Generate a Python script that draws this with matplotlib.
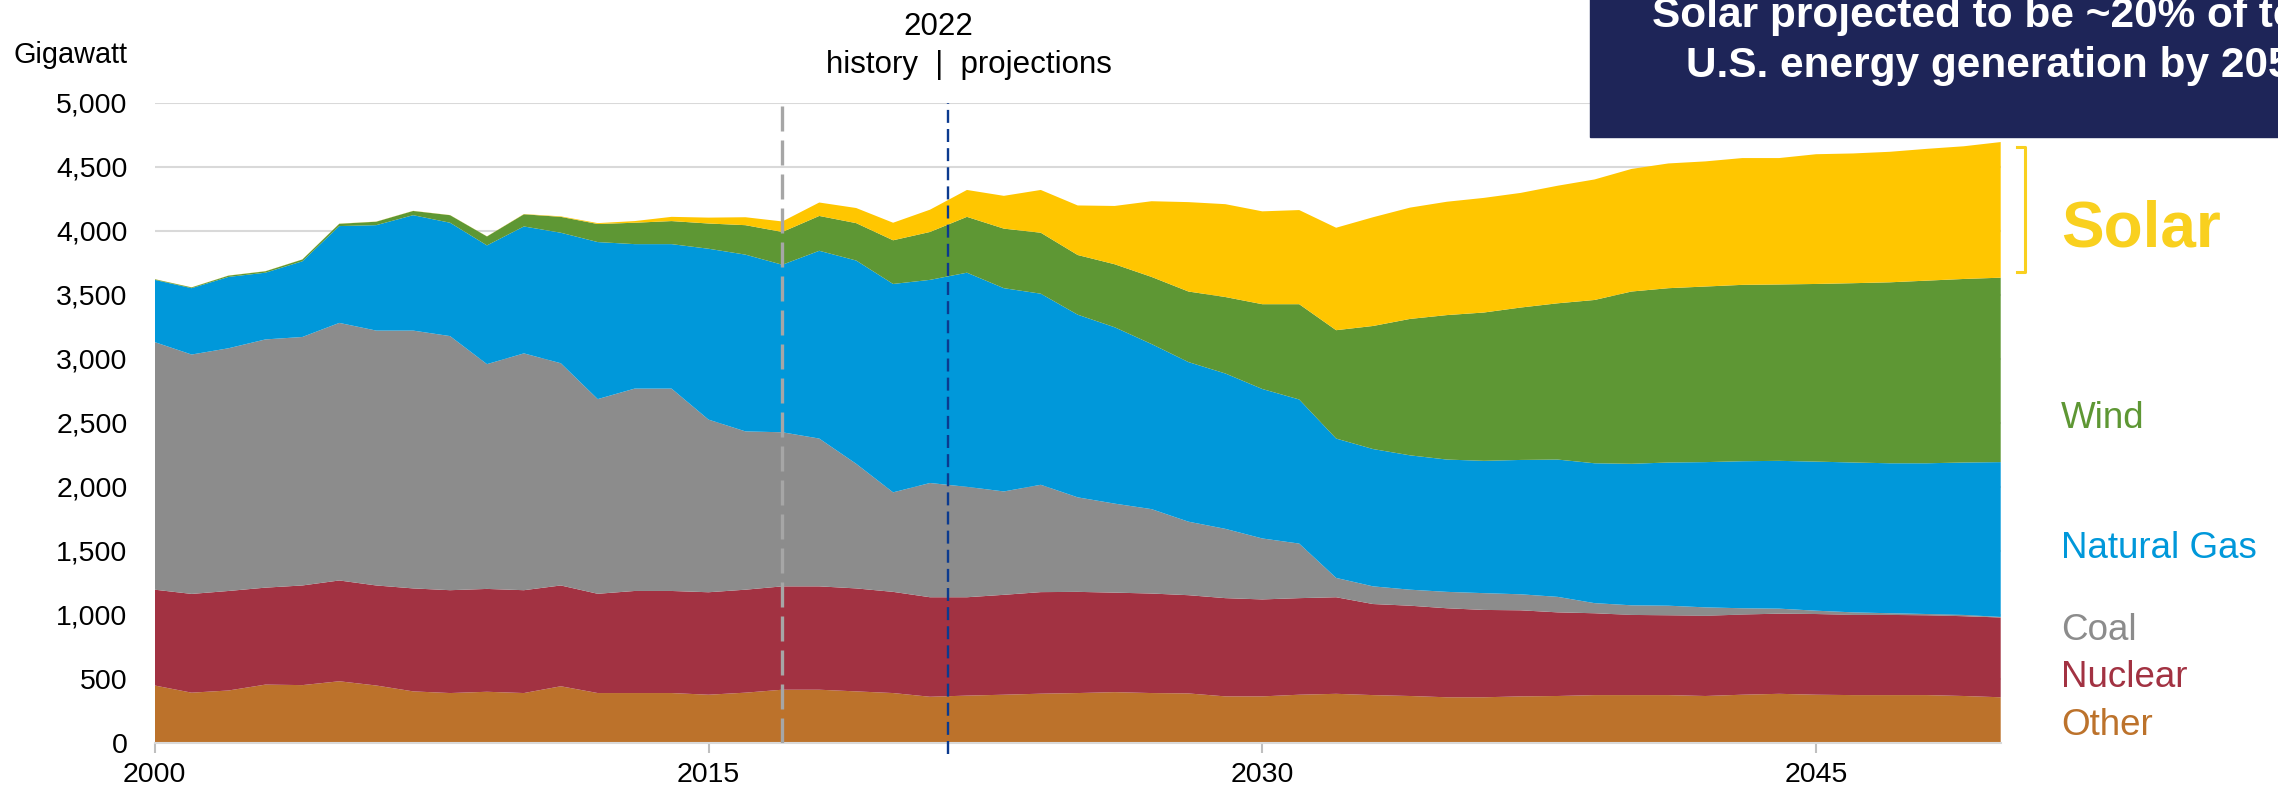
import matplotlib
matplotlib.use("Agg")
import matplotlib.pyplot as plt
import matplotlib.transforms as mtransforms
from matplotlib.lines import Line2D
from matplotlib.patches import Rectangle
from matplotlib.ticker import FuncFormatter
import numpy as np

plt.rcParams['font.family'] = ['Liberation Sans', 'DejaVu Sans']

# annual generation by source, 2000-2050
years = np.arange(2000, 2051)
other = [449, 393, 410, 456, 452, 482, 449, 403, 390, 400,
         390, 443, 390, 390, 390, 377, 393, 416, 416, 403,
         390, 361, 370, 377, 385, 390, 397, 390, 387, 364,
         364, 377, 384, 374, 367, 357, 357, 364, 367, 374,
         374, 374, 367, 377, 384, 377, 374, 374, 374, 367,
         357]
nuclear = [748, 771, 777, 757, 778, 787, 781, 804, 803, 803,
           803, 787, 775, 797, 797, 800, 804, 807, 807, 804,
           790, 777, 768, 780, 793, 790, 777, 777, 767, 767,
           757, 754, 754, 711, 705, 695, 682, 672, 653, 639,
           626, 623, 626, 626, 626, 630, 626, 626, 623, 623,
           623]
coal = [1933, 1869, 1895, 1938, 1940, 2011, 1990, 2013, 1984, 1755,
        1849, 1735, 1520, 1580, 1580, 1348, 1236, 1203, 1154, 973,
        777, 892, 862, 807, 838, 738, 695, 659, 574, 541,
        476, 426, 151, 138, 125, 128, 131, 125, 121, 79,
        75, 75, 66, 49, 39, 26, 20, 13, 10, 10,
        4]
natural_gas = [486, 518, 557, 521, 591, 756, 823, 901, 885, 927,
               991, 1019, 1226, 1128, 1128, 1334, 1380, 1308, 1466, 1587,
               1627, 1586, 1672, 1587, 1492, 1426, 1377, 1289, 1246, 1213,
               1167, 1125, 1088, 1072, 1049, 1033, 1033, 1049, 1072, 1092,
               1105, 1118, 1134, 1148, 1154, 1164, 1170, 1171, 1177, 1190,
               1209]
wind = [5, 6, 10, 11, 14, 18, 27, 33, 59, 70,
        95, 124, 141, 167, 180, 197, 230, 256, 272, 292,
        341, 374, 436, 465, 476, 466, 492, 524, 551, 597,
        662, 744, 846, 961, 1065, 1128, 1158, 1190, 1220, 1275,
        1345, 1361, 1371, 1377, 1377, 1387, 1400, 1413, 1426, 1433,
        1440]
solar = [1, 1, 1, 1, 1, 1, 1, 1, 1, 1,
         2, 4, 7, 13, 33, 46, 62, 82, 105, 118,
         137, 174, 210, 256, 334, 387, 455, 591, 698, 725,
         725, 735, 800, 849, 869, 885, 895, 895, 918, 941,
         957, 974, 977, 990, 987, 1013, 1013, 1019, 1029, 1036,
         1059]

source_names = ['Other', 'Nuclear', 'Coal', 'Natural Gas', 'Wind', 'Solar']
area_colors = ['#BC722B', '#A23242', '#8C8C8C', '#0098DA', '#5E9734', '#FFC600']
label_colors = ['#BC722B', '#A23242', '#8C8C8C', '#0098DA', '#5E9734', '#F9D01F']
x_ticks = [2000, 2015, 2030, 2045]
y_ticks = np.arange(0, 5001, 500)

W, H = 2278, 795
fig = plt.figure(figsize=(W / 100, H / 100), dpi=100)
ax = fig.add_axes([154.7 / W, 1 - 743 / H, 1846 / W, 640.4 / H])

ax.stackplot(years, other, nuclear, coal, natural_gas, wind, solar,
             colors=area_colors, linewidth=0, zorder=2)

ax.set_xlim(2000, 2050)
ax.set_ylim(0, 5000)
ax.set_xticks(x_ticks)
ax.set_yticks(y_ticks)
ax.yaxis.set_major_formatter(FuncFormatter(lambda v, p: f'{int(v):,}'))
ax.yaxis.grid(True, color='#D9D9D9', lw=1.5)
ax.set_axisbelow(True)
for side in ['top', 'right', 'left']:
    ax.spines[side].set_visible(False)
ax.spines['bottom'].set_color('#D9D9D9')
ax.spines['bottom'].set_linewidth(1.5)
ax.tick_params(axis='x', length=7, width=1.5, color='#BFBFBF', pad=7, labelsize=20.5)
ax.tick_params(axis='y', length=0, pad=19.5, labelsize=20.5)

# history / projections markers
ax.axvline(2017, color='#A6A6A6', lw=2.4, dashes=(7.5, 2.7), zorder=3)
ax.plot([2021.5, 2021.5], [-85, 5000], color='#0B3A8F', lw=1.7,
        dashes=(5.5, 2.6), clip_on=False, zorder=3)

fig.text(13.3 / W, 1 - 62.7 / H, 'Gigawatt', fontsize=20.8, va='baseline')
fig.text(938.5 / W, 1 - 35 / H, '2022', fontsize=22.5, ha='center', va='baseline')
fig.text(968.8 / W, 1 - 73 / H, 'history  |  projections', fontsize=22.5,
         ha='center', va='baseline')

# headline box
fig.add_artist(Rectangle((1590 / W, 1 - 136.7 / H), 1, 1, transform=fig.transFigure,
                         color='#1E2558', zorder=5))
fig.text(2000.5 / W, 1 - 26.7 / H, 'Solar projected to be ~20% of total', color='white',
         fontsize=30.5, fontweight='bold', ha='center', va='baseline', zorder=6)
fig.text(2000.5 / W, 1 - 77.3 / H, 'U.S. energy generation by 2050', color='white',
         fontsize=30.5, fontweight='bold', ha='center', va='baseline', zorder=6)

# bracket around the final solar band
wind_top = np.sum([other, nuclear, coal, natural_gas, wind], axis=0)[-1]
total_top = wind_top + solar[-1]
trans = mtransforms.blended_transform_factory(ax.transAxes, ax.transData)
bx0, bx1 = 1.0087, 1.0132
ax.add_line(Line2D([bx0, bx1, bx1, bx0], [total_top - 40, total_top - 40, wind_top + 45, wind_top + 45],
                   transform=trans, color='#F9D01F', lw=2.2, clip_on=False))

# series labels on the right
label_baselines = [735, 686.7, 640, 557.7, 427.7, 246.7]
for name, color, yb in zip(source_names, label_colors, label_baselines):
    if name == 'Solar':
        fig.text(2061 / W, 1 - yb / H, name, color=color, fontsize=46,
                 fontweight='bold', va='baseline')
    else:
        fig.text(2061 / W, 1 - yb / H, name, color=color, fontsize=26.5, va='baseline')

fig.savefig('out.png', dpi=100)
